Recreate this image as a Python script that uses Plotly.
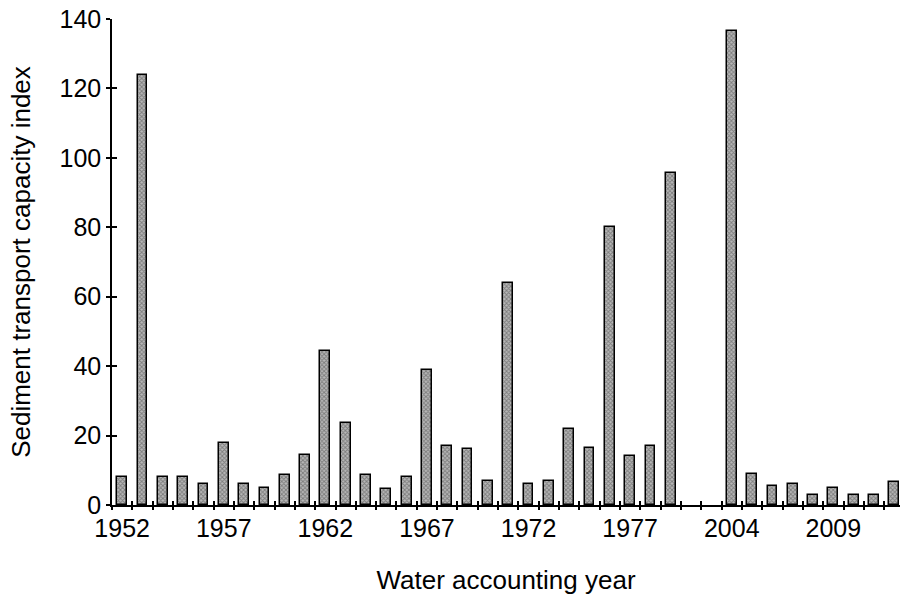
import plotly.graph_objects as go

# Water accounting years (two unrecorded slots between 1979 and 2004)
years = [str(y) for y in range(1952, 1980)] + ["", ""] + [str(y) for y in range(2004, 2013)]
sediment_index = [
    8, 124, 8, 8, 6, 18, 6, 5, 8.5, 14.5,
    44.5, 23.5, 8.5, 4.5, 8, 39, 17, 16, 7, 64,
    6, 7, 22, 16.5, 80, 14, 17, 95.5,
    None, None,
    136.5, 9, 5.5, 6, 3, 5, 3, 3, 6.5,
]
label_step = 5
y_ticks = [0, 20, 40, 60, 80, 100, 120, 140]

positions = list(range(len(years)))
label_pos = positions[::label_step]
label_text = [years[i] for i in label_pos]
boundaries = [p - 0.5 for p in positions] + [positions[-1] + 0.5]

FONT = "Liberation Sans, Arial, sans-serif"
FS = 25
FS_TITLE = 26
x_range = [-0.5, 38.28]
y_range = [0, 140]

fig = go.Figure()
fig.add_trace(go.Bar(
    x=positions,
    y=sediment_index,
    width=0.48,
    marker=dict(
        color="#909090",
        line=dict(color="black", width=1.5),
        pattern=dict(shape="x", fgcolor="#404040", bgcolor="#b8b8b8", size=3, solidity=0.5),
    ),
    showlegend=False,
    hoverinfo="x+y",
))
# empty trace so the overlay axes (inside tick halves) get drawn
fig.add_trace(go.Scatter(x=[None], y=[None], xaxis="x2", yaxis="y2", showlegend=False, hoverinfo="skip"))

common_x = dict(range=x_range, showgrid=False, zeroline=False, fixedrange=True)
common_y = dict(range=y_range, showgrid=False, zeroline=False, fixedrange=True)

fig.update_layout(
    width=900, height=598,
    margin=dict(l=112, r=0, t=19, b=93),
    paper_bgcolor="white", plot_bgcolor="white",
    font=dict(family=FONT, size=FS, color="black"),
    bargap=0,
    xaxis=dict(
        **common_x,
        tickmode="array", tickvals=label_pos, ticktext=label_text,
        ticks="", ticklen=0,
        minor=dict(tickmode="array", tickvals=boundaries, ticks="outside", ticklen=3, tickwidth=1.5, tickcolor="black"),
        showline=True, linecolor="black", linewidth=1.5,
        tickfont=dict(size=FS),
        title=dict(text="Water accounting year", font=dict(size=FS_TITLE), standoff=30),
    ),
    yaxis=dict(
        **common_y,
        tickmode="array", tickvals=y_ticks,
        ticks="outside", ticklen=4, tickwidth=1.5, tickcolor="black",
        showline=True, linecolor="black", linewidth=1.5,
        tickfont=dict(size=FS),
        title=dict(text="Sediment transport capacity index", font=dict(size=FS_TITLE), standoff=21),
    ),
    xaxis2=dict(
        **common_x, overlaying="x", anchor="y2",
        tickmode="array", tickvals=boundaries, ticks="inside", ticklen=4, tickwidth=1.5,
        tickcolor="black", showticklabels=False, showline=False,
    ),
    yaxis2=dict(
        **common_y, overlaying="y", anchor="x2",
        tickmode="array", tickvals=y_ticks, ticks="inside", ticklen=5, tickwidth=1.5,
        tickcolor="black", showticklabels=False, showline=False,
    ),
)

fig.write_html("out.html")
